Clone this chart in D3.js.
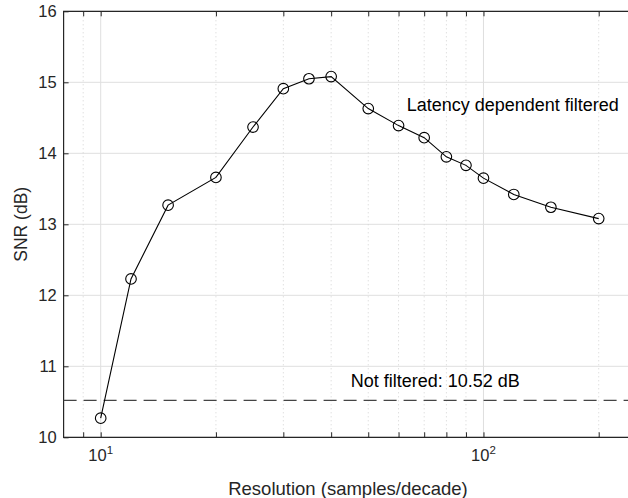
<!DOCTYPE html>
<html>
<head>
<meta charset="utf-8">
<script src="https://cdn.jsdelivr.net/npm/d3@7"></script>
<style>
  html, body { margin: 0; padding: 0; background: #fff; }
  svg { display: block; font-family: "Liberation Sans", Arial, Helvetica, sans-serif; }
</style>
</head>
<body>
<svg id="chart" width="628" height="498"></svg>
<script>
// Resolution in samples per decade
const resolution = [10, 12, 15, 20, 25, 30, 35, 40, 50, 60, 70, 80, 90, 100, 120, 150, 200];
// SNR of the latency dependent filtered signal, dB
const snrFiltered = [10.27, 12.23, 13.27, 13.66, 14.37, 14.91, 15.05, 15.08, 14.63, 14.39, 14.22, 13.95, 13.83, 13.65, 13.42, 13.24, 13.08];
// SNR without filtering, dB
const snrUnfiltered = 10.52;

const yTicks = [10, 11, 12, 13, 14, 15, 16];
const xMajorTicks = [10, 100];
const xMinorTicks = [9, 20, 30, 40, 50, 60, 70, 80, 90, 200];

const svg = d3.select("#chart");

const x = d3.scaleLog().domain([8, 250]).range([63.6, 635.8]);
const y = d3.scaleLinear().domain([10, 16]).range([437.3, 11.3]);

const axisColor = "#262626";
const x0 = x.range()[0], x1 = x.range()[1];
const y0 = y.range()[0], y1 = y.range()[1];

// grid
const grid = svg.append("g");
grid.selectAll("line.ymaj").data(yTicks).join("line")
  .attr("x1", x0).attr("x2", x1)
  .attr("y1", d => y(d)).attr("y2", d => y(d))
  .attr("stroke", "#dfdfdf").attr("stroke-width", 1);
grid.selectAll("line.xmin").data(xMinorTicks).join("line")
  .attr("x1", d => x(d)).attr("x2", d => x(d))
  .attr("y1", y0).attr("y2", y1)
  .attr("stroke", "#d2d2d2").attr("stroke-width", 1)
  .attr("stroke-dasharray", "1,3");
grid.selectAll("line.xmaj").data(xMajorTicks).join("line")
  .attr("x1", d => x(d)).attr("x2", d => x(d))
  .attr("y1", y0).attr("y2", y1)
  .attr("stroke", "#dfdfdf").attr("stroke-width", 1);

// axes: ticks inward, top and bottom for x
const xAxisBottom = d3.axisBottom(x).tickValues(xMajorTicks.concat(xMinorTicks))
  .tickSize(-5).tickFormat("");
const xAxisTop = d3.axisTop(x).tickValues(xMajorTicks.concat(xMinorTicks))
  .tickSize(-5).tickFormat("");
const yAxis = d3.axisLeft(y).tickValues(yTicks).tickSize(-5).tickFormat("");

function styleAxis(g) {
  g.select(".domain").remove();
  g.selectAll(".tick line").attr("stroke", axisColor).attr("stroke-width", 1);
}
svg.append("g").attr("transform", `translate(0,${y0})`).call(xAxisBottom).call(styleAxis);
svg.append("g").attr("transform", `translate(0,${y1})`).call(xAxisTop).call(styleAxis);
svg.append("g").attr("transform", `translate(${x0},0)`).call(yAxis).call(styleAxis);

// box
svg.append("path")
  .attr("d", `M${x1},${y1}H${x0}V${y0}H${x1}`)
  .attr("fill", "none").attr("stroke", axisColor).attr("stroke-width", 1.2);

// y tick labels
svg.append("g").selectAll("text").data(yTicks).join("text")
  .attr("x", x0 - 7).attr("y", d => y(d)).attr("dy", "0.36em")
  .attr("text-anchor", "end").attr("font-size", 16.5).attr("fill", axisColor)
  .text(d => d);

// x tick labels as powers of ten
const xl = svg.append("g").selectAll("text").data(xMajorTicks).join("text")
  .attr("x", d => x(d)).attr("y", 461)
  .attr("text-anchor", "middle").attr("font-size", 16.5).attr("fill", axisColor);
xl.append("tspan").text("10");
xl.append("tspan").attr("font-size", 11.5).attr("dy", -7).text(d => Math.round(Math.log10(d)));

// axis labels
svg.append("text")
  .attr("x", 348).attr("y", 495).attr("text-anchor", "middle")
  .attr("font-size", 18.5).attr("fill", axisColor)
  .text("Resolution (samples/decade)");
svg.append("text")
  .attr("transform", `translate(27,${(y0 + y1) / 2}) rotate(-90)`)
  .attr("text-anchor", "middle")
  .attr("font-size", 17.5).attr("fill", axisColor)
  .text("SNR (dB)");

// unfiltered reference level
svg.append("line")
  .attr("x1", x0).attr("x2", x1)
  .attr("y1", y(snrUnfiltered)).attr("y2", y(snrUnfiltered))
  .attr("stroke", "#444").attr("stroke-width", 1.3)
  .attr("stroke-dasharray", "13,7");

// filtered SNR curve
const pts = resolution.map((r, i) => [r, snrFiltered[i]]);
svg.append("path")
  .datum(pts)
  .attr("d", d3.line().x(d => x(d[0])).y(d => y(d[1])))
  .attr("fill", "none").attr("stroke", "#000").attr("stroke-width", 1.1);
svg.append("g").selectAll("circle").data(pts).join("circle")
  .attr("cx", d => x(d[0])).attr("cy", d => y(d[1])).attr("r", 5.3)
  .attr("fill", "none").attr("stroke", "#000").attr("stroke-width", 1.1);

// annotations
svg.append("text")
  .attr("x", x(63)).attr("y", y(14.6))
  .attr("font-size", 18).attr("fill", "#000")
  .text("Latency dependent filtered");
svg.append("text")
  .attr("x", x(45)).attr("y", y(10.71))
  .attr("font-size", 18).attr("fill", "#000")
  .text("Not filtered: " + snrUnfiltered.toFixed(2) + " dB");
</script>
</body>
</html>
